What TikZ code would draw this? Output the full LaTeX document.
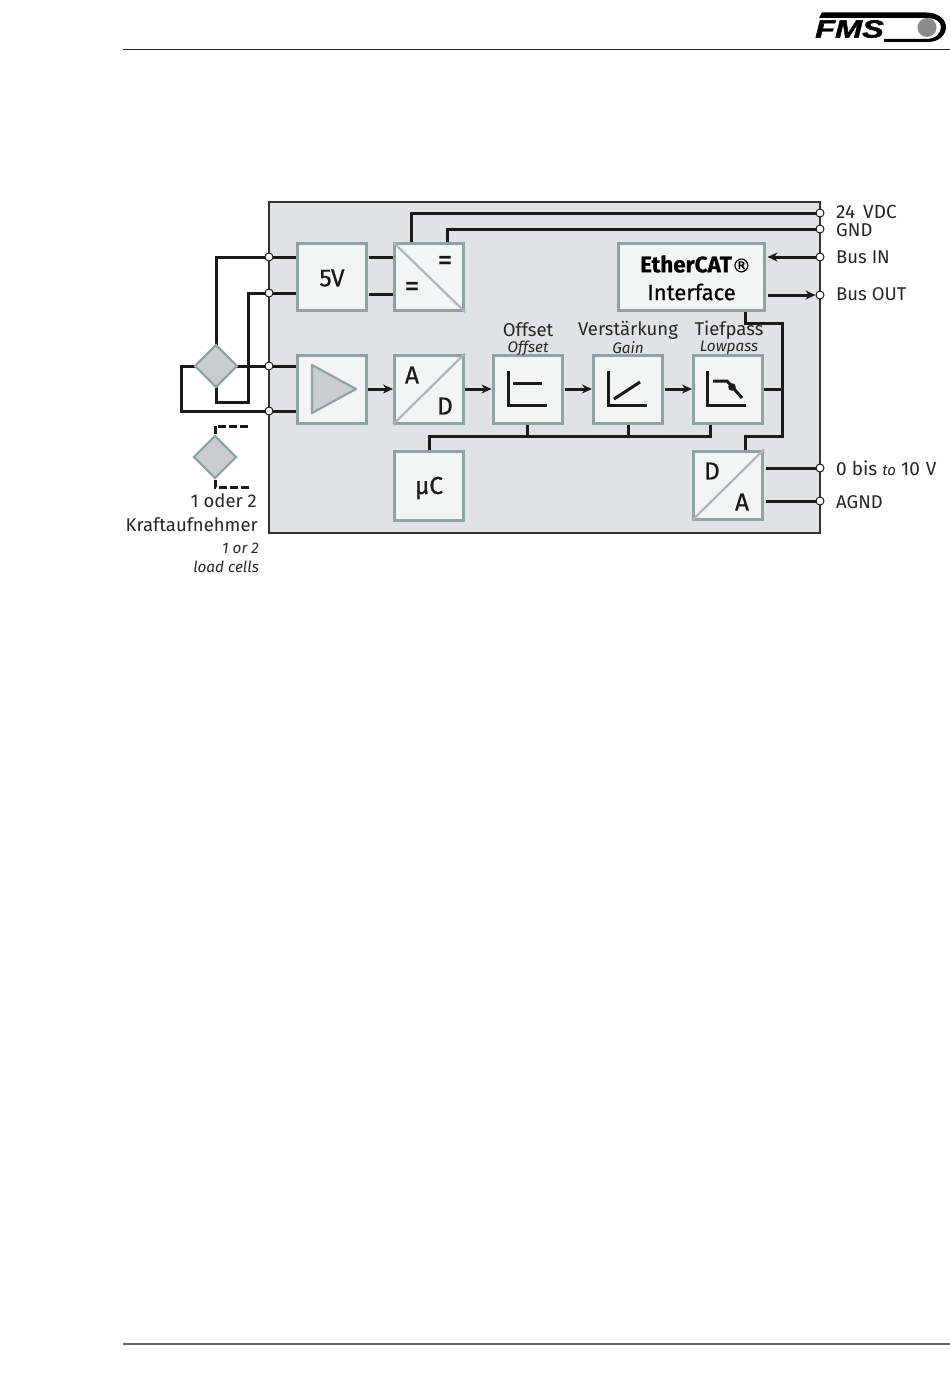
\documentclass[tikz,border=0pt]{standalone}
\usepackage{fontspec}
\setmainfont{Fira Sans}
\newfontfamily\logofont[FakeBold=1.5]{Liberation Sans}
\newfontfamily\medfont[FakeBold=0.6]{Fira Sans}
\newfontfamily\regfont[FakeBold=0.5]{DejaVu Sans}
\usetikzlibrary{arrows.meta,shapes.geometric}
\pgfdeclarelayer{panellayer}
\pgfdeclarelayer{wirelayer}
\pgfsetlayers{panellayer,wirelayer,main}
\definecolor{panelgray}{HTML}{E0E2E3}
\definecolor{blockfill}{HTML}{F3F4F4}
\definecolor{blockedge}{HTML}{8FA3A3}
\definecolor{diaggray}{HTML}{B2B3BB}
\definecolor{cellfill}{HTML}{C9CDCD}
\definecolor{wirecol}{HTML}{1A1A1A}
\tikzset{
  blockbox/.style={draw=blockedge,fill=blockfill,line width=3pt,inner sep=0pt,minimum height=#1,rectangle},
  wire/.style={draw=wirecol,line width=3pt,line join=miter},
  flow/.style={wire,-{Stealth[length=10pt,width=9pt]}},
  term/.style={circle,draw=wirecol,fill=white,line width=1pt,minimum size=8pt,inner sep=0pt},
  cell/.style={diamond,aspect=1,draw=blockedge,fill=cellfill,line width=2.4pt,inner sep=0pt,minimum size=43pt},
  diag/.style={draw=diaggray,line width=2.2pt},
  icon/.style={draw=wirecol,line width=3pt},
  lab/.style={font=\fontsize{18.5}{20}\selectfont,text=black!85,inner sep=0pt},
  sublab/.style={font=\fontsize{15.3}{16}\itshape\selectfont,text=black!85,inner sep=0pt},
  big/.style={font=\medfont\fontsize{24.5}{25}\selectfont,text=black!90,inner sep=0pt},
}
\begin{document}
\begin{tikzpicture}[x=1pt,y=-1pt]
\useasboundingbox (0,0) rectangle (950,1397);
% header and footer
\coordinate (hl) at (123,49.5); \coordinate (hr) at (950,49.5);
\coordinate (fl) at (123,1344); \coordinate (fr) at (950,1344);
\draw[black!85,line width=1.2pt] (hl) -- (hr);
\draw[black!60,line width=1.2pt] (fl) -- (fr);
% logo
\fill[black] (822,12.5) -- (926,12.5) .. controls (939,12.5) and (946,20) .. (946,27) .. controls (946,34) and (940,42) .. (928,42) -- (884,42) -- (884,39) -- (926,39) .. controls (936,39) and (941,33) .. (941,27) .. controls (941,22) and (936,18) .. (926,18) -- (819,18) -- cycle;
\node[font=\logofont\fontsize{25}{25}\bfseries\itshape\selectfont,inner sep=0pt,xscale=1.3] (fms) at (849.5,29) {FMS};
\node[circle,fill=black!45,minimum size=19pt,inner sep=0pt] (ball) at (927,27.5) {};
% panel
\begin{pgfonlayer}{panellayer}
\node[rectangle,draw=black!80,fill=panelgray,line width=1.2pt,minimum width=551pt,minimum height=331pt,inner sep=0pt] (panel) at (544.5,367.5) {};
\end{pgfonlayer}
% blocks
\node[blockbox=67pt,minimum width=69pt] (five) at (332,277) {};
\node[blockbox=67pt,minimum width=69pt] (dcdc) at (429,277) {};
\node[blockbox=67pt,minimum width=146pt] (ecat) at (691,277) {};
\node[blockbox=68pt,minimum width=69pt] (amp) at (332,389) {};
\node[blockbox=68pt,minimum width=69pt] (adc) at (429,389) {};
\node[blockbox=68pt,minimum width=69pt] (offs) at (527.5,389) {};
\node[blockbox=68pt,minimum width=69pt] (gain) at (628,389) {};
\node[blockbox=68pt,minimum width=69pt] (lowp) at (728,389) {};
\node[blockbox=69pt,minimum width=69pt] (uc) at (429,486) {};
\node[blockbox=68pt,minimum width=69pt] (dac) at (728,485) {};
% block contents
\node[big] (fivetext) at (332,278) {5V};
\node[big] (uctext) at (429,488) {µC};
\draw[diag] (dcdc.north west) -- (dcdc.south east);
\draw[diag] (adc.south west) -- (adc.north east);
\draw[diag] (dac.south west) -- (dac.north east);
\node[big,font=\medfont\fontsize{30}{30}\selectfont] (eqa) at (445,263) {=};
\node[big,font=\medfont\fontsize{30}{30}\selectfont] (eqb) at (412,289) {=};
\node[big] (la) at (412,375) {A};
\node[big] (ld) at (445,406) {D};
\node[big] (da) at (712,471) {D};
\node[big] (aa) at (742,502) {A};
\node[big,font=\medfont\fontsize{22.5}{28}\selectfont,text=black] (ecattext) at (695.5,264) {\textbf{EtherCAT}{\regfont\fontsize{19}{20}\selectfont ®}};
\node[big,font=\medfont\fontsize{22}{28}\selectfont,text=black] (ifacetext) at (691.5,292) {Interface};
\draw[blockedge,fill=cellfill,line width=2.2pt,line join=round] (312,365) -- (356,389) -- (312,413) -- cycle;
\draw[icon] (508,371) -- (508,405) -- (547,405);
\draw[icon] (513,383) -- (542,383);
\draw[icon] (608,371) -- (608,405) -- (647,405);
\draw[icon] (614,399) -- (640,382);
\draw[icon] (707,371) -- (707,405) -- (746,405);
\draw[icon] (713,381) -- (727,381) -- (742,398);
\fill[wirecol] (732,387) circle (3.8pt);
% cells
\node[cell] (cella) at (216,366) {};
\node[cell] (cellb) at (215,457) {};
% terminals
\node[term] (tl1) at (269,257) {};
\node[term] (tl2) at (269,293) {};
\node[term] (tl3) at (269,366) {};
\node[term] (tl4) at (269,411) {};
\node[term] (tr1) at (820,213) {};
\node[term] (tr2) at (820,229) {};
\node[term] (tr3) at (820,257) {};
\node[term] (tr4) at (820,295) {};
\node[term] (tr5) at (820,468) {};
\node[term] (tr6) at (820,501) {};
% wires
\begin{pgfonlayer}{wirelayer}
\draw[wire] (tl1.center) -- (five.west |- tl1);
\draw[wire] (tl2.center) -- (five.west |- tl2);
\draw[wire] (tl3.center) -- (amp.west |- tl3);
\draw[wire] (tl4.center) -- (amp.west |- tl4);
\draw[wire] (tl1.center) -- (216,257) -- (cella.center);
\draw[wire] (tl2.center) -- (248,293) -- (248,402) -- (216,402) -- (cella.center);
\draw[wire] (cella.center) -- (tl3.center);
\draw[wire] (cella.center) -- (181,366) -- (181,411) -- (tl4.center);
\draw[wire,dash pattern=on 8pt off 3pt] (cellb.north) -- (215,426) -- (249,426);
\draw[wire,dash pattern=on 8pt off 3pt] (cellb.south) -- (215,487) -- (249,487);
\draw[wire] (five.east |- 0,257) ++(1,0) -- (dcdc.west |- 0,257);
\draw[wire] (five.east |- 0,294) ++(1,0) -- (dcdc.west |- 0,294);
\draw[wire] (dcdc.north -| 411,0) -- (411,213) -- (tr1.center);
\draw[wire] (dcdc.north -| 447,0) -- (447,229) -- (tr2.center);
\draw[flow] (tr3) -- ([xshift=2pt]ecat.east |- tr3);
\draw[flow] ([xshift=2pt]ecat.east |- tr4) -- (tr4);
\draw[flow] (amp.east) -- (adc.west);
\draw[flow] (adc.east) -- (offs.west);
\draw[flow] ([xshift=1pt]offs.east) -- (gain.west);
\draw[flow] ([xshift=1pt]gain.east) -- (lowp.west);
\draw[wire] (lowp.east) -- (782,389);
\draw[wire] (ecat.south -| 745,0) -- (745,323) -- (782,323) -- (782,436) -- (745,436) -- (dac.north -| 745,0);
\draw[wire] (uc.north) -- (429,436) -- (710,436) -- (lowp.south -| 710,0);
\draw[wire] (offs.south) -- (527.5,436);
\draw[wire] (gain.south) -- (628,436);
\draw[wire] ([xshift=2pt]dac.east |- tr5) -- (tr5.center);
\draw[wire] ([xshift=2pt]dac.east |- tr6) -- (tr6.center);
\end{pgfonlayer}
% labels
\node[lab,anchor=west,font=\fontsize{19}{20}\selectfont] (l1) at (836,212) {24\hspace{3pt} VDC};
\node[lab,anchor=west] (l2) at (836,230) {GND};
\node[lab,anchor=west] (l3) at (836,257) {Bus IN};
\node[lab,anchor=west] (l4) at (836,294) {Bus OUT};
\node[lab,anchor=west,font=\fontsize{19}{20}\selectfont] (l5) at (836,468) {0 bis {\fontsize{15}{16}\itshape\selectfont to} 10\hspace{1pt} V};
\node[lab,anchor=west] (l6) at (836,502) {AGND};
\node[lab] (h1) at (528,330) {Offset};
\node[sublab] (s1) at (528,348) {Offset};
\node[lab] (h2) at (628,330) {Verstärkung};
\node[sublab] (s2) at (628,348) {Gain};
\node[lab] (h3) at (729,330) {Tiefpass};
\node[sublab] (s3) at (729,348) {Lowpass};
\node[lab,anchor=east] (c1) at (257,501) {1 oder 2};
\node[lab,anchor=east] (c2) at (258,525) {Kraftaufnehmer};
\node[sublab,anchor=east] (c3) at (259,548) {1 or 2};
\node[sublab,anchor=east] (c4) at (259,567) {load cells};
\end{tikzpicture}
\end{document}
